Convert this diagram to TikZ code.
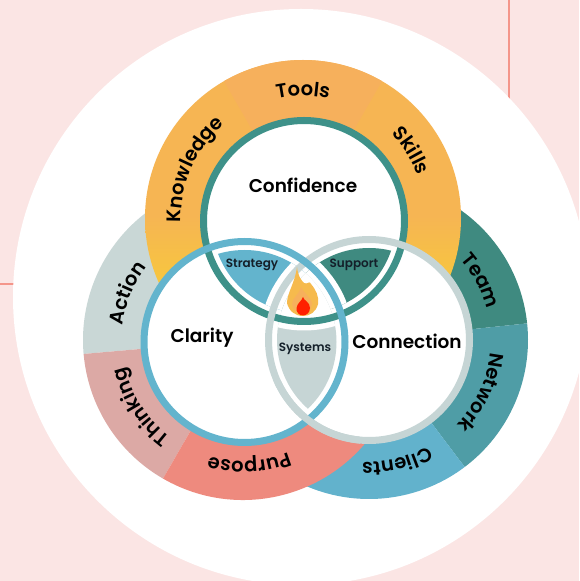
\documentclass[tikz,border=0pt]{standalone}
\usepackage{fontspec}
\usetikzlibrary{decorations.text}
\setmainfont{Poppins SemiBold}
\newcommand{\ringfont}{\fontsize{19.5}{20}\selectfont}
\definecolor{bgpink}{HTML}{FBE5E4}
\definecolor{redline}{HTML}{F4958A}
\definecolor{toolsc}{HTML}{F6B05C}
\definecolor{yellowtop}{HTML}{F6B553}
\definecolor{yellowlow}{HTML}{F7C63F}
\definecolor{teamc}{HTML}{3F8A80}
\definecolor{networkc}{HTML}{4F9DA6}
\definecolor{clientsc}{HTML}{62B2CC}
\definecolor{actionc}{HTML}{C9D7D6}
\definecolor{thinkingc}{HTML}{DCA9A5}
\definecolor{purposec}{HTML}{EE8A7E}
\definecolor{tealring}{HTML}{3E9189}
\definecolor{bluering}{HTML}{63B4CD}
\definecolor{grayring}{HTML}{C6D5D5}
\definecolor{darktext}{HTML}{14202A}
\tikzset{
  ring/.style={line width=7pt},
  lenstext/.style={font=\fontsize{12}{12}\selectfont, text=darktext, inner sep=0pt},
  bigtext/.style={font=\fontsize{18.5}{19}\selectfont, text=black, inner sep=0pt}
}
% centre, radius, middle angle, text
\newcommand{\ringlabel}[4]{%
  \path[decorate, decoration={text along path, text={|\ringfont|#4}, text align=center}]
    (#1) ++(#3+70:#2) arc (#3+70:#3-70:#2);}
% one petal of the middle: inside c1 and c2, outside c3
\newcommand{\lensfill}[4]{%
  \begin{scope}
    \clip (#1) circle (92);
    \clip (#2) circle (92);
    \fill[#4] (0,0) rectangle (579,581);
    \fill[white] (#3) circle (109.5);
  \end{scope}}
\newcommand{\sector}[5]{\fill[#5] (#1) -- ++(#3:#2) arc (#3:#4:#2) -- cycle;}

\begin{document}
\begin{tikzpicture}[x=1pt,y=1pt]
  \fill[bgpink] (0,0) rectangle (579,581);
  \useasboundingbox (0,0) rectangle (579,581);
  \coordinate (topc) at (304,360);
  \coordinate (leftc) at (244.5,239);
  \coordinate (rightc) at (369,241);
  \coordinate (topo) at (303,363);
  \coordinate (lefto) at (243,241);
  \coordinate (righto) at (369,241);

  \draw[redline, line width=2pt] (509,581) -- (509,480);
  \draw[redline, line width=2pt] (0,297) -- (20,297);
  \fill[white] (301,284) circle (288);

  % right disk
  \sector{righto}{159}{6}{120}{teamc}
  \sector{righto}{159}{-53}{6}{networkc}
  \sector{righto}{159}{-150}{-53}{clientsc}
  % left disk
  \sector{lefto}{160}{60}{185}{actionc}
  \sector{lefto}{160}{185}{240}{thinkingc}
  \sector{lefto}{160}{240}{330}{purposec}
  % top disk
  \begin{scope}
    \clip (topo) circle (158);
    \fill[yellowtop] (140,365) rectangle (470,530);
    \shade[top color=yellowtop, bottom color=yellowlow] (140,365) rectangle (470,300);
    \fill[yellowlow] (140,300) rectangle (470,200);
  \end{scope}
  \sector{topo}{158}{60}{120}{toolsc}

  \fill[white] (topc) circle (100);
  \fill[white] (leftc) circle (100);
  \fill[white] (rightc) circle (100);

  \lensfill{topc}{leftc}{rightc}{bluering}
  \lensfill{topc}{rightc}{leftc}{teamc}
  \lensfill{leftc}{rightc}{topc}{grayring}

  \draw[ring, tealring] (topc) circle (100.5);
  \draw[ring, grayring] (rightc) circle (100.5);
  \draw[ring, bluering] (leftc) circle (100.5);
  \begin{scope}
    \clip (250,100) rectangle (360,200);
    \draw[ring, grayring] (rightc) circle (100.5);
  \end{scope}

  % flame
  \fill[yellowtop!70!yellowlow] (297,314) .. controls (298,305) and (301,301) .. (304,298)
    .. controls (307,296) and (310,301) .. (311,297)
    .. controls (316,291) and (319,285) .. (318,277)
    .. controls (316,269) and (310,265) .. (303,265)
    .. controls (295,265) and (289,270) .. (287,278)
    .. controls (287,288) and (295,298) .. (297,314) -- cycle;
  \fill[toolsc] (301,294) .. controls (303,288) and (311,285) .. (312,277)
    .. controls (311,270) and (307,267) .. (303,267)
    .. controls (297,267) and (293,271) .. (292,277)
    .. controls (292,283) and (299,286) .. (301,294) -- cycle;
  \fill[red!75!orange] (303,284) .. controls (304,280) and (310,279) .. (310,273)
    .. controls (310,268) and (306,265.5) .. (303,265.5)
    .. controls (299,265.5) and (296,269) .. (296.5,273)
    .. controls (297,278) and (302,280) .. (303,284) -- cycle;

  \node[bigtext] (confidence) at (303,396) {Confidence};
  \node[bigtext] (clarity) at (202,243) {Clarity};
  \node[bigtext] (connection) at (407,240) {Connection};
  \node[lenstext] (strategy) at (252,316) {Strategy};
  \node[lenstext] (support) at (354,316) {Support};
  \node[lenstext] (systems) at (305,232) {Systems};

  \ringlabel{topo}{122}{90}{Tools}
  \ringlabel{topo}{122}{156}{Knowledge}
  \ringlabel{topo}{122}{32}{Skills}
  \ringlabel{lefto}{121}{158}{Action}
  \ringlabel{lefto}{121}{213}{Thinking}
  \ringlabel{lefto}{121}{273}{Purpose}
  \ringlabel{righto}{122}{28}{Team}
  \ringlabel{righto}{122}{-25}{Network}
  \ringlabel{righto}{122}{-77}{Clients}
\end{tikzpicture}
\end{document}
